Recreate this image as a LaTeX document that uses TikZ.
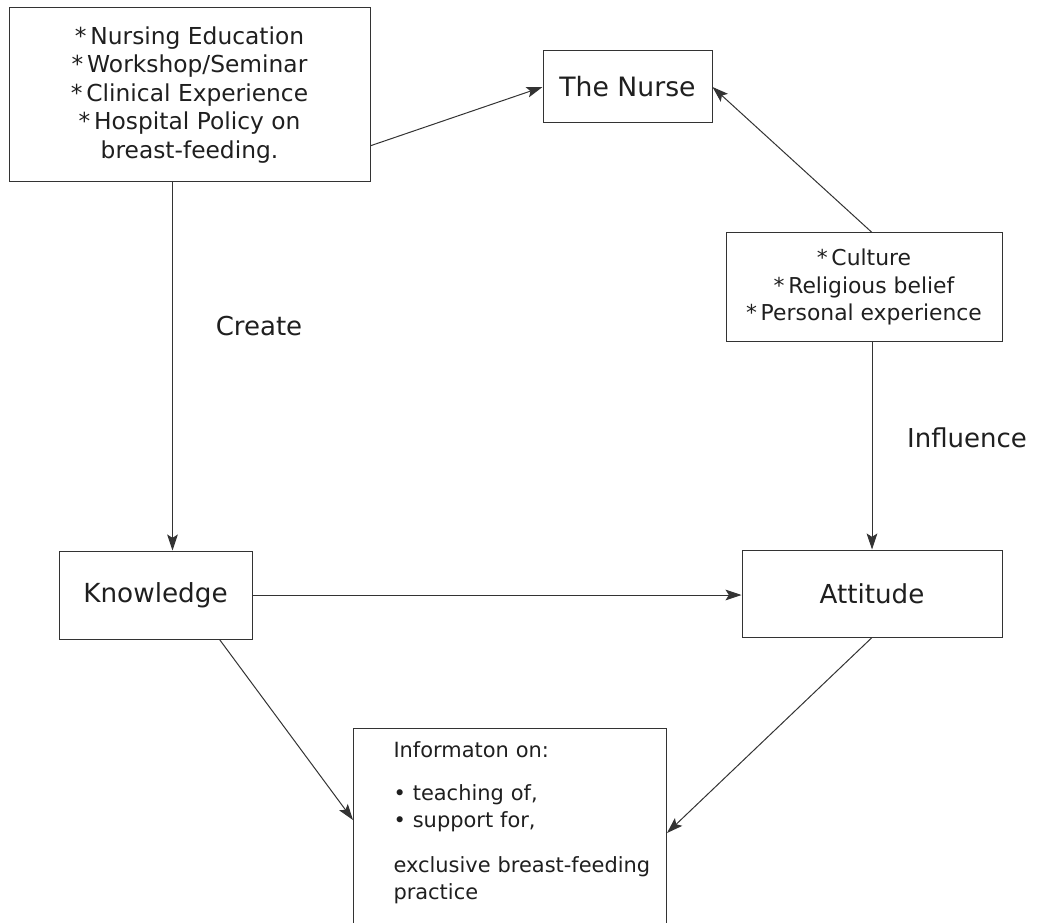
\documentclass[tikz,border=0pt]{standalone}
\usepackage{fontspec}
\setmainfont{DejaVu Sans}
\usetikzlibrary{arrows.meta,calc}

\begin{document}
\begin{tikzpicture}[x=0.75pt,y=-0.75pt,
	box/.style={draw=black!80,line width=0.75pt,rectangle,text=black!88,align=center,inner sep=0pt},
	lbl/.style={text=black!88,inner sep=0pt,font=\fontsize{19.5}{23}\selectfont},
	arr/.style={draw=black!80,line width=0.75pt,-{Stealth[length=12pt,width=8pt,inset=2.5pt]}}
	]
	\useasboundingbox (0,0) rectangle (1041,923);

	\node[box,minimum width=270.75pt,minimum height=130.5pt,font=\fontsize{17.5}{21.4}\selectfont] (sources) at (189.5,95)
		{*\,Nursing Education\\ *\,Workshop/Seminar\\ *\,Clinical Experience\\ *\,Hospital Policy on\\ breast-feeding.};
	\node[box,minimum width=126.75pt,minimum height=54pt,font=\fontsize{20}{24}\selectfont] (nurse) at (627.5,87) {The Nurse};
	\node[box,minimum width=207pt,minimum height=81pt,font=\fontsize{16.4}{20.6}\selectfont] (culture) at (864,287)
		{*\,Culture\\ *\,Religious belief\\ *\,Personal experience};
	\node[box,minimum width=144.75pt,minimum height=66pt,font=\fontsize{19.7}{23}\selectfont] (knowledge) at (155.5,595) {Knowledge};
	\node[box,minimum width=195pt,minimum height=65.25pt,font=\fontsize{19.6}{23}\selectfont] (attitude) at (872,593.5) {Attitude};
	\node[box,anchor=north west,align=left,text width=174.75pt,inner xsep=30pt,inner ysep=10pt,text depth=150pt,
		font=\fontsize{15.7}{20}\selectfont] (info) at (353,728)
		{Informaton on:\\[12pt] \textbullet\ teaching of,\\ \textbullet\ support for,\\[14pt] \mbox{exclusive breast-feeding}\\ practice};

	% labels
	\node[lbl] (create) at (259,326) {Create};
	\node[lbl] (influence) at (967,437.5) {Influence};

	% arrows
	\draw[arr] ($(sources.south east)!0.21!(sources.north east)$) -- (nurse.west);
	\draw[arr] (culture.north -| attitude.north) -- (nurse.east);
	\coordinate (mid) at ($(sources.south)!0.5!(knowledge.north)$);
	\draw[arr] (sources.south -| mid) -- (knowledge.north -| mid);
	\draw[arr] (culture.south -| attitude.north) -- (attitude.north);
	\draw[arr] (knowledge.east) -- (knowledge.east -| attitude.west);
	\draw[arr] ($(knowledge.south west)!0.83!(knowledge.south east)$) -- ($(info.north west)+(0,92)$);
	\draw[arr] (attitude.south) -- ($(info.north east)+(0,105)$);
\end{tikzpicture}
\end{document}
